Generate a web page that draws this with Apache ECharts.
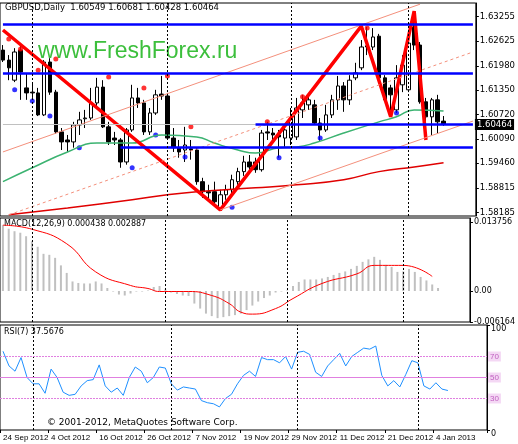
<!DOCTYPE html>
<html>
<head>
<meta charset="utf-8">
<script src="https://cdn.jsdelivr.net/npm/echarts@6/dist/echarts.min.js"></script>
<style>html,body{margin:0;padding:0;background:#fff}#chart{width:518px;height:444px}</style>
</head>
<body>
<div id="chart"></div>
<script>
var dates = ['24 Sep 2012','25 Sep 2012','26 Sep 2012','27 Sep 2012','28 Sep 2012',
  '1 Oct 2012','2 Oct 2012','3 Oct 2012','4 Oct 2012','5 Oct 2012','8 Oct 2012','9 Oct 2012','10 Oct 2012','11 Oct 2012','12 Oct 2012',
  '15 Oct 2012','16 Oct 2012','17 Oct 2012','18 Oct 2012','19 Oct 2012','22 Oct 2012','23 Oct 2012','24 Oct 2012','25 Oct 2012','26 Oct 2012',
  '29 Oct 2012','30 Oct 2012','31 Oct 2012','1 Nov 2012','2 Nov 2012','5 Nov 2012','6 Nov 2012','7 Nov 2012','8 Nov 2012','9 Nov 2012',
  '12 Nov 2012','13 Nov 2012','14 Nov 2012','15 Nov 2012','16 Nov 2012','19 Nov 2012','20 Nov 2012','21 Nov 2012','22 Nov 2012','23 Nov 2012',
  '26 Nov 2012','27 Nov 2012','28 Nov 2012','29 Nov 2012','30 Nov 2012','3 Dec 2012','4 Dec 2012','5 Dec 2012','6 Dec 2012','7 Dec 2012',
  '10 Dec 2012','11 Dec 2012','12 Dec 2012','13 Dec 2012','14 Dec 2012','17 Dec 2012','18 Dec 2012','19 Dec 2012','20 Dec 2012','21 Dec 2012',
  '24 Dec 2012','26 Dec 2012','27 Dec 2012','28 Dec 2012','31 Dec 2012','2 Jan 2013','3 Jan 2013','4 Jan 2013','7 Jan 2013','8 Jan 2013',
  '9 Jan 2013','10 Jan 2013','11 Jan 2013','14 Jan 2013','15 Jan 2013','16 Jan 2013'];

// [open, close, low, high]
var ohlc = [
  [1.6239,1.6213,1.6208,1.6252],[1.6213,1.6193,1.6161,1.6226],[1.6161,1.6234,1.6156,1.6244],[1.6239,1.6182,1.6110,1.6252],
  [1.6141,1.6128,1.6110,1.6177],[1.6130,1.6128,1.6115,1.6154],[1.6128,1.6071,1.6068,1.6141],[1.6071,1.6208,1.6068,1.6213],
  [1.6208,1.6130,1.6123,1.6218],[1.6130,1.6027,1.6022,1.6136],[1.6027,1.6001,1.5980,1.6037],[1.6006,1.6001,1.5975,1.6019],
  [1.6001,1.6045,1.5986,1.6053],[1.6045,1.6058,1.6019,1.6079],[1.6061,1.6063,1.6037,1.6084],[1.6063,1.6102,1.6058,1.6141],
  [1.6102,1.6143,1.6089,1.6167],[1.6143,1.6040,1.6037,1.6161],[1.6040,1.6001,1.5993,1.6053],[1.6011,1.6006,1.5993,1.6027],
  [1.6006,1.5949,1.5934,1.6011],[1.5949,1.6032,1.5942,1.6037],[1.6032,1.6115,1.6027,1.6149],[1.6115,1.6102,1.6089,1.6141],
  [1.6102,1.6027,1.6019,1.6110],[1.6027,1.6076,1.6019,1.6089],[1.6076,1.6123,1.6071,1.6136],[1.6125,1.6120,1.6110,1.6172],
  [1.6120,1.6011,1.6006,1.6128],[1.6011,1.5986,1.5975,1.6037],[1.5986,1.5975,1.5960,1.6006],[1.5980,1.5993,1.5949,1.6040],
  [1.5983,1.5980,1.5955,1.6006],[1.5980,1.5898,1.5890,1.5986],[1.5898,1.5872,1.5856,1.5908],[1.5872,1.5869,1.5851,1.5890],
  [1.5872,1.5846,1.5838,1.5898],[1.5830,1.5864,1.5822,1.5877],[1.5864,1.5877,1.5851,1.5890],[1.5877,1.5903,1.5864,1.5916],
  [1.5898,1.5924,1.5890,1.5934],[1.5924,1.5949,1.5913,1.5965],[1.5949,1.5936,1.5924,1.5967],[1.5949,1.5929,1.5921,1.5960],
  [1.5929,1.6024,1.5924,1.6032],[1.6027,1.6024,1.6006,1.6053],[1.6024,1.6019,1.6001,1.6037],[1.6019,1.6014,1.5960,1.6032],
  [1.6011,1.6032,1.5988,1.6045],[1.6011,1.6063,1.5993,1.6089],[1.6014,1.6089,1.6006,1.6115],[1.6084,1.6102,1.6063,1.6123],
  [1.6097,1.6110,1.6084,1.6118],[1.6097,1.6050,1.6045,1.6110],[1.6050,1.6032,1.6004,1.6063],[1.6032,1.6071,1.6027,1.6097],
  [1.6071,1.6110,1.6063,1.6123],[1.6110,1.6146,1.6084,1.6172],[1.6146,1.6110,1.6079,1.6156],[1.6110,1.6161,1.6097,1.6174],
  [1.6167,1.6180,1.6161,1.6206],[1.6193,1.6247,1.6187,1.6265],[1.6250,1.6247,1.6226,1.6299],[1.6247,1.6273,1.6239,1.6296],
  [1.6275,1.6167,1.6161,1.6281],[1.6167,1.6110,1.6105,1.6174],[1.6141,1.6123,1.6071,1.6149],[1.6084,1.6167,1.6076,1.6200],
  [1.6149,1.6200,1.6130,1.6226],[1.6136,1.6257,1.6130,1.6265],[1.6299,1.6252,1.6239,1.6340],[1.6252,1.6105,1.6100,1.6260],
  [1.6105,1.6066,1.6006,1.6115],[1.6066,1.6110,1.6019,1.6115],[1.6110,1.6053,1.6024,1.6123],[1.60549,1.60464,1.60428,1.60681]
];

// moving averages read at a few bars: [index, value]
var maGreen = [[0,1.5898],[5,1.5934],[11,1.5975],[16,1.5998],[22,1.5998],[27,1.6019],[33,1.6014],[36,1.5998],[40,1.5980],[43,1.5972],
  [47,1.5986],[50,1.5988],[53,1.5998],[58,1.6024],[64,1.6053],[67,1.6066],[70,1.6084],[75,1.6081]];
var maRed = [[1,1.5812],[11,1.5830],[22,1.5851],[28,1.5864],[33,1.5872],[43,1.5882],[50,1.5890],[58,1.5903],[64,1.5924],[70,1.5936],[75,1.5947]];
var zigzag = [[0,1.6291],[37,1.5825],[61,1.6301],[66,1.6066],[70,1.6340],[72,1.6006]];
var fractalUp = [[1,1.6268],[3,1.6242],[6,1.6187],[9,1.6216],[18,1.6169],[24,1.6141],[28,1.6172],[32,1.6040],[45,1.6053],[51,1.6118],[62,1.6296]];
var fractalDown = [[2,1.6136],[5,1.6107],[8,1.6068],[13,1.5986],[22,1.5934],[26,1.6019],[31,1.5962],[39,1.5832],[47,1.5960],[54,1.6011],[67,1.6076]];
var levels = [[0,1.6306],[0,1.6180],[43,1.6048],[20,1.5988]];
var channel = [[[0,1.5975],[71,1.6358]],[[1,1.5812],[80,1.6234]],[[37,1.5825],[80,1.6055]]];
var priceTicks = [1.63255,1.62625,1.61980,1.61350,1.60720,1.60090,1.59460,1.58815,1.58185];
var lastPrice = 1.60464;

var macdHist = [0.0131,0.0124,0.0119,0.0116,0.0109,0.0099,0.0088,0.0074,0.0072,0.0066,0.0051,0.0036,0.0019,0.0016,0.0015,0.0015,
  0.0019,0.0015,0.0006,-0.0001,-0.0007,-0.0009,-0.0005,-0.0001,-0.0001,0.0001,0.0008,0.0010,0.0003,-0.0003,-0.0006,-0.0009,
  -0.0010,-0.0025,-0.0035,-0.0045,-0.0050,-0.0054,-0.0052,-0.0050,-0.0048,-0.0045,-0.0038,-0.0029,-0.0021,-0.0014,-0.0009,-0.0003,
  -0.0001,0.0001,0.0010,0.0018,0.0023,0.0023,0.0023,0.0025,0.0028,0.0032,0.0036,0.0039,0.0044,0.0050,0.0058,0.0063,
  0.0068,0.0062,0.0052,0.0048,0.0038,0.0039,0.0044,0.0038,0.0028,0.0021,0.0013,0.0006];
var macdSignal = [[0,0.0131],[5,0.0123],[11,0.0094],[16,0.0038],[22,0.0011],[25,0.0005],[27,-0.0001],[32,-0.0001],[36,-0.0009],
  [39,-0.0025],[41,-0.0042],[43,-0.0046],[47,-0.0035],[50,-0.0015],[55,0.0015],[61,0.0034],[64,0.0051],[69,0.0051],[74,0.0029]];
var macdTicks = [0.013756, 0, -0.006164];

var rsi = [75,61,56,69,50,44,44,35,58,50,36,33,34,42,47,48,62,42,36,40,33,50,60,56,45,50,60,59,44,38,41,40,39,28,26,25,22,30,34,44,
  52,56,51,69,67,67,64,70,58,74,75,72,55,51,61,67,73,61,70,74,78,77,80,52,42,47,41,53,66,64,42,39,45,39,37.6];
var monthStarts = [5, 28, 49, 69];

function pad(arr) {
  var out = dates.map(function () { return null; });
  arr.forEach(function (p) { out[p[0]] = p[1]; });
  return out;
}

var font = 'DejaVu Sans';
var vlines = {
  symbol: 'none', silent: true, animation: false,
  lineStyle: { color: '#000', type: [2, 2], width: 1 },
  label: { show: false },
  data: monthStarts.map(function (i) { return { xAxis: i }; })
};

function every8(i) { return i % 8 === 0 && i < 76; }

function xAxisCfg(idx, labels) {
  return {
    type: 'category', gridIndex: idx, data: dates, boundaryGap: true,
    axisLine: { show: false }, axisTick: { show: labels, interval: every8, length: 3, lineStyle: { color: '#000' } },
    axisLabel: { show: labels, interval: every8, showMinLabel: true, hideOverlap: false, align: 'left', margin: 4,
      fontSize: 8, color: '#000', fontFamily: 'Liberation Sans' },
    splitLine: { show: false }
  };
}

var blueLevels = levels.map(function (l) {
  return [{ coord: [l[0], l[1]] }, { coord: [80, l[1]] }];
});
var chanLines = channel.map(function (c, k) {
  return [{ coord: c[0], lineStyle: { type: k === 1 ? [3, 3] : 'solid' } }, { coord: c[1] }];
});

var option = {
  backgroundColor: '#fff',
  animation: false,
  grid: [
    { left: 0, right: 31, top: 3, height: 213, show: true, borderColor: '#000', borderWidth: 1 },
    { left: 0, right: 31, top: 218, height: 104, show: true, borderColor: '#000', borderWidth: 1 },
    { left: 0, right: 31, top: 325, height: 105, show: true, borderColor: '#000', borderWidth: 1 }
  ],
  xAxis: [xAxisCfg(0, false), xAxisCfg(1, false), xAxisCfg(2, true)],
  yAxis: [
    { type: 'value', gridIndex: 0, position: 'right', min: 1.5809, max: 1.6361, splitLine: { show: false },
      axisLine: { show: true, lineStyle: { color: '#000' } },
      axisTick: { show: true, customValues: priceTicks, length: 3 },
      axisLabel: { customValues: priceTicks, fontSize: 8.5, color: '#000', fontFamily: font, margin: 4,
        formatter: function (v) { return v.toFixed(5); } } },
    { type: 'value', gridIndex: 1, position: 'right', min: -0.00617, max: 0.01453, splitLine: { show: false },
      axisLine: { show: true, lineStyle: { color: '#000' } },
      axisTick: { show: true, customValues: macdTicks, length: 3 },
      axisLabel: { customValues: macdTicks, fontSize: 8, color: '#000', fontFamily: font, margin: 4,
        formatter: function (v) { return v === 0 ? '0.00' : v.toFixed(6); } } },
    { type: 'value', gridIndex: 2, position: 'right', min: 0, max: 100, splitLine: { show: false },
      axisLine: { show: true, lineStyle: { color: '#000' } },
      axisTick: { show: true, customValues: [0, 100], length: 3 },
      axisLabel: { customValues: [0, 100], fontSize: 8, color: '#000', fontFamily: font, margin: 4,
        verticalAlign: 'top' } }
  ],
  graphic: [
    { type: 'text', left: 5, top: 3, style: { text: 'GBPUSD,Daily  1.60549 1.60681 1.60428 1.60464', fontSize: 8.5, fontFamily: font, fill: '#000' } },
    { type: 'text', left: 38, top: 40, style: { text: 'www.FreshForex.ru', fontSize: 23, fontFamily: 'Liberation Sans', fill: '#3cbf3c' } },
    { type: 'text', left: 4, top: 220, style: { text: 'MACD(12,26,9) 0.000438 0.002887', fontSize: 8, fontFamily: font, fill: '#000' } },
    { type: 'text', left: 4, top: 328, style: { text: 'RSI(7) 37.5676', fontSize: 8, fontFamily: font, fill: '#000' } },
    { type: 'text', left: 47, top: 418, style: { text: '\u00a9 2001-2012, MetaQuotes Software Corp.', fontSize: 9, fontFamily: font, fill: '#000' } }
  ],
  series: [
    { type: 'candlestick', xAxisIndex: 0, yAxisIndex: 0, data: ohlc, barWidth: 4, clip: true,
      itemStyle: { color: '#fff', color0: '#000', borderColor: '#000', borderColor0: '#000', borderWidth: 1 },
      markLine: { symbol: 'none', silent: true, animation: false, label: { show: false },
        data: chanLines.concat([[{ coord: [0, lastPrice], lineStyle: { color: '#c0c0c0', width: 1, type: 'solid' },
          label: { show: true, position: 'end', formatter: '1.60464', color: '#fff', backgroundColor: '#000', fontSize: 8.5, fontFamily: font, padding: [1, 2], distance: 2 } },
          { coord: [80, lastPrice] }]]),
        lineStyle: { color: '#f4907c', width: 1 } } },
    { type: 'line', xAxisIndex: 0, yAxisIndex: 0, data: pad(maRed), connectNulls: true, symbol: 'none', smooth: true,
      lineStyle: { color: '#e00000', width: 1.5 } },
    { type: 'line', xAxisIndex: 0, yAxisIndex: 0, data: pad(maGreen), connectNulls: true, symbol: 'none', smooth: true,
      lineStyle: { color: '#3cb371', width: 1.5 } },
    { type: 'line', xAxisIndex: 0, yAxisIndex: 0, data: [], symbol: 'none',
      markLine: { symbol: 'none', silent: true, label: { show: false }, lineStyle: { color: '#0000ff', width: 2.5, type: 'solid' }, data: blueLevels } },
    { type: 'line', xAxisIndex: 0, yAxisIndex: 0, data: pad(zigzag), connectNulls: true, symbol: 'none',
      lineStyle: { color: '#ff0000', width: 3.5 }, markLine: vlines },
    { type: 'scatter', xAxisIndex: 0, yAxisIndex: 0, data: fractalUp, symbolSize: 5, itemStyle: { color: '#ff0000' } },
    { type: 'scatter', xAxisIndex: 0, yAxisIndex: 0, data: fractalDown, symbolSize: 5, itemStyle: { color: '#0000ff' } },
    { type: 'bar', xAxisIndex: 1, yAxisIndex: 1, data: macdHist, barWidth: 2, itemStyle: { color: '#c0c0c0' }, markLine: vlines },
    { type: 'line', xAxisIndex: 1, yAxisIndex: 1, data: pad(macdSignal), connectNulls: true, smooth: true, symbol: 'none',
      lineStyle: { color: '#ff0000', width: 1 } },
    { type: 'line', xAxisIndex: 2, yAxisIndex: 2, data: rsi, symbol: 'none', lineStyle: { color: '#1e90ff', width: 1 },
      markLine: { symbol: 'none', silent: true, animation: false,
        data: monthStarts.map(function (i) { return { xAxis: i, lineStyle: { color: '#000', type: [2, 2], width: 1 }, label: { show: false } }; })
          .concat([70, 50, 30].map(function (v) {
            return { yAxis: v, lineStyle: { color: '#e080e0', width: 1, type: v === 50 ? 'solid' : [2, 1] },
              label: { show: true, position: 'end', formatter: String(v), color: '#c060c0', backgroundColor: '#f4d8f4', fontSize: 8, padding: [1, 2], distance: 1 } };
          })) } }
  ]
};

var myChart = echarts.init(document.getElementById('chart'), null, { renderer: 'canvas' });
myChart.setOption(option);
</script>
</body>
</html>
